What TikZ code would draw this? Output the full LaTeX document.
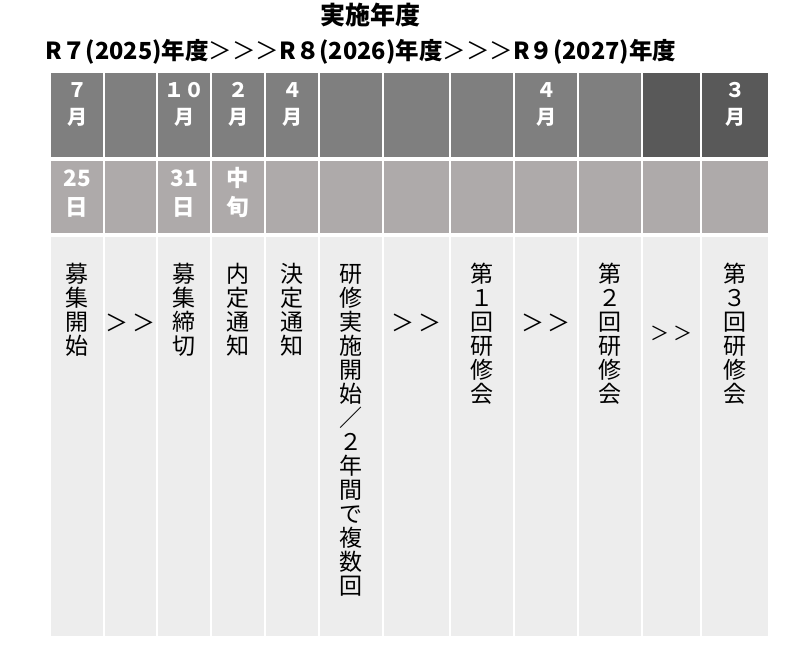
\documentclass[tikz,border=0pt]{standalone}
\usepackage{fontspec}
\setmainfont{Noto Sans CJK JP}
\usetikzlibrary{positioning}
\definecolor{monthgray}{HTML}{7F7F7F}
\definecolor{monthdark}{HTML}{595959}
\definecolor{daygray}{HTML}{AEAAAA}
\definecolor{eventgray}{HTML}{EDEDED}
\tikzstyle{cell} = [rectangle, draw=white, line width=2pt, anchor=north west, inner sep=0pt, outer sep=0pt]
\tikzstyle{glyph} = [inner sep=0pt]

\begin{document}
\begin{tikzpicture}[x=1pt, y=-1pt,
  mon/.style={glyph, text=white, text height=17.6pt, text depth=2.4pt, font=\bfseries\fontsize{20}{24}\selectfont},
  day/.style={glyph, text=white, text height=19.8pt, text depth=2.7pt, font=\bfseries\fontsize{22.5}{26}\selectfont},
  evt/.style={glyph, text height=20.2pt, text depth=2.8pt, font=\fontsize{23}{24}\selectfont},
  small evt/.style={glyph, text height=16.7pt, text depth=2.3pt, font=\fontsize{19}{20}\selectfont}]

    \useasboundingbox (0,0) rectangle (811,653);

    \node[font=\bfseries\fontsize{25}{30}\selectfont] (title) at (370,15) {実施年度};
    \node[font=\bfseries\fontsize{23.5}{28}\selectfont] (years) at (361,52) {R７(2025)年度{\mdseries ＞＞＞}R８(2026)年度{\mdseries ＞＞＞}R９(2027)年度};

    % month row, day row, event row
    \foreach \l/\r/\shade [count=\i] in {50/104/monthgray, 104/157/monthgray, 157/211/monthgray, 211/265/monthgray, 265/319/monthgray, 319/383/monthgray, 383/450/monthgray, 450/514/monthgray, 514/578/monthgray, 578/642/monthgray, 642/701/monthdark, 701/769/monthdark} {
      \node[cell, fill=\shade, minimum width={(\r-\l)*1pt}, minimum height=85.5pt] (h\i) at (\l,72) {};
      \node[cell, fill=daygray, minimum width={(\r-\l)*1pt}, minimum height=74.5pt] (d\i) at (\l,159.5) {};
      \node[cell, fill=eventgray, minimum width={(\r-\l)*1pt}, minimum height=401.5pt] (e\i) at (\l,235.5) {};
    }

    \foreach \c/\n in {1/７, 3/１０, 4/２, 5/４, 9/４, 12/３} {
      \node[mon] (n\c) at ([yshift=-17.5pt]h\c.north) {\n};
      \node[mon] (m\c) at ([yshift=-44.5pt]h\c.north) {月};
    }

    \foreach \c/\a/\b in {1/25/日, 3/31/日, 4/中/旬} {
      \node[day] (a\c) at ([yshift=-18pt]d\c.north) {\a};
      \node[day] (b\c) at ([yshift=-47.2pt]d\c.north) {\b};
    }

    % vertical labels
    \foreach \c/\chars in {1/{募,集,開,始}, 3/{募,集,締,切}, 4/{内,定,通,知}, 5/{決,定,通,知}, 6/{研,修,実,施,開,始,／,２,年,間,で,複,数,回}, 8/{第,１,回,研,修,会}, 10/{第,２,回,研,修,会}, 12/{第,３,回,研,修,会}}
      \foreach \ch [count=\k] in \chars
        \node[evt] (v\c-\k) at ([yshift={-38.5-24*(\k-1)}]e\c.north) {\ch};

    \foreach \c in {2,7,9}
      \node[evt] (g\c) at ([yshift=-87.5pt]e\c.north) {＞\kern4pt＞};
    \node[small evt] (g11) at ([yshift=-97.5pt]e11.north) {＞\kern4pt＞};

\end{tikzpicture}
\end{document}
